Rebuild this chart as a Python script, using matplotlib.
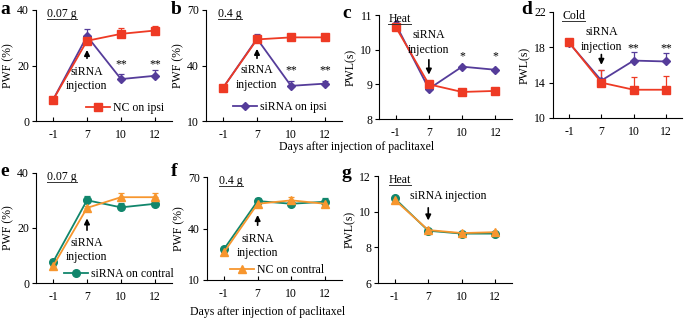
import matplotlib.pyplot as plt
from matplotlib.lines import Line2D

plt.rcParams['font.family'] = ['Liberation Serif', 'DejaVu Serif']
plt.rcParams['font.size'] = 8.5

days = ["-1", "7", "10", "12"]
xs = [0, 1, 2, 3]

PURPLE = "#553c9a"
RED = "#ee3a24"
GREEN = "#11866c"
ORANGE = "#f7962e"

# panel a: PWF 0.07 g (ipsi)
a_sirna = [7.6, 30.6, 15.1, 16.3]
a_sirna_err = [1.2, 2.4, 1.8, 1.9]
a_nc = [7.6, 28.9, 31.4, 32.6]
a_nc_err = [1.2, 1.5, 2.1, 1.6]

# panel b: PWF 0.4 g (ipsi)
b_sirna = [27.9, 54.5, 29.0, 30.2]
b_sirna_err = [0.5, 2.3, 2.7, 1.4]
b_nc = [27.9, 54.1, 55.2, 55.2]
b_nc_err = [0.5, 2.5, 0.8, 0.8]

# panel c: heat PWL (ipsi)
c_sirna = [10.74, 8.87, 9.51, 9.42]
c_nc = [10.66, 9.0, 8.78, 8.81]

# panel d: cold PWL (ipsi)
d_sirna = [18.5, 14.24, 16.5, 16.4]
d_sirna_err = [0.2, 1.2, 1.0, 1.0]
d_nc = [18.55, 14.0, 13.2, 13.2]
d_nc_err = [0.2, 1.4, 1.4, 1.5]

# panel e: PWF 0.07 g (contral)
e_sirna = [7.6, 30.1, 27.5, 28.8]
e_sirna_err = [1.2, 1.7, 1.6, 0.6]
e_nc = [6.1, 27.3, 31.2, 31.2]
e_nc_err = [0.6, 0.8, 1.5, 1.5]

# panel f: PWF 0.4 g (contral)
f_sirna = [27.9, 56.0, 54.4, 55.6]
f_sirna_err = [0.8, 1.5, 0.8, 2.1]
f_nc = [26.1, 54.4, 56.4, 54.4]
f_nc_err = [0.5, 1.5, 1.7, 0.8]

# panel g: heat PWL (contral)
g_sirna = [10.74, 8.93, 8.77, 8.77]
g_nc = [10.66, 8.97, 8.8, 8.85]

W, H = 685, 319
fig = plt.figure(figsize=(W / 100, H / 100), dpi=100)
underlined = []


def make_ax(left, right, top, bottom):
    return fig.add_axes([left / W, 1 - bottom / H, (right - left) / W, (bottom - top) / H])


def style(ax, ylim, yticks, ylabel, label, lx, ly):
    ax.set_xlim(-0.5, 3.5)
    ax.set_ylim(*ylim)
    ax.set_yticks(yticks)
    ax.set_xticks(xs)
    ax.set_xticklabels(days)
    ax.spines['top'].set_visible(False)
    ax.spines['right'].set_visible(False)
    ax.tick_params(axis='x', direction='in', length=3, pad=6)
    ax.tick_params(axis='y', direction='out', length=3, pad=2)
    ax.set_ylabel(ylabel, labelpad=2)
    fig.text(lx / W, 1 - ly / H, label, fontsize=14, fontweight='bold',
             ha='left', va='center')


def series(ax, y, err, color, marker, ms):
    ax.errorbar(xs, y, yerr=None if err is None else [[0] * 4, err], color=color,
                marker=marker, ms=ms, lw=1.3, capsize=2.5, elinewidth=0.9,
                capthick=0.9)


def title(ax, s, x=0.08):
    t = ax.text(x, 0.96, s, transform=ax.transAxes, ha='left', va='center')
    underlined.append((ax, t))


def arrow(ax, y0, y1):
    ax.annotate("", xy=(1, y1), xytext=(1, y0),
                arrowprops=dict(arrowstyle='-|>', lw=1.2, color='black', mutation_scale=8))


def legend(ax, color, marker, ms, text, x, y):
    h = Line2D([], [], color=color, marker=marker, ms=ms, lw=1.3)
    ax.legend([h], [text], loc='center left', frameon=False,
              handlelength=2.0, handletextpad=0.25, borderpad=0, borderaxespad=0,
              bbox_to_anchor=(x / W, 1 - y / H), bbox_transform=fig.transFigure)


ax = make_ax(36, 172, 10, 121)
series(ax, a_sirna, a_sirna_err, PURPLE, 'D', 4.5)
series(ax, a_nc, a_nc_err, RED, 's', 5.5)
style(ax, (0, 40), [0, 20, 40], "PWF (%)", "a", 0, 10)
title(ax, "0.07 g")
arrow(ax, 21.6, 26.6)
ax.text(1, 15.1, "siRNA\ninjection", ha='center', va='center', linespacing=1.3)
for x in (2, 3):
    ax.text(x, 20.5, "**", ha='center', va='center')
legend(ax, RED, 's', 5.5, "NC on ipsi", 86, 108)

ax = make_ax(206, 342, 10, 121)
series(ax, b_sirna, b_sirna_err, PURPLE, 'D', 4.5)
series(ax, b_nc, b_nc_err, RED, 's', 5.5)
style(ax, (10, 70), [10, 40, 70], "PWF (%)", "b", 171, 10)
title(ax, "0.4 g", 0.09)
arrow(ax, 42.4, 50.5)
ax.text(1, 33.5, "siRNA\ninjection", ha='center', va='center', linespacing=1.3)
for x in (2, 3):
    ax.text(x, 37.5, "**", ha='center', va='center')
legend(ax, PURPLE, 'D', 4.5, "siRNA on ipsi", 233, 107)

ax = make_ax(379, 512, 15, 119)
series(ax, c_sirna, None, PURPLE, 'D', 4.5)
series(ax, c_nc, None, RED, 's', 5.5)
style(ax, (8, 11), [8, 9, 10, 11], "PWL(s)", "c", 342, 13)
title(ax, "Heat", 0.07)
arrow(ax, 9.79, 9.2)
ax.text(1, 10.2, "siRNA\ninjection", ha='center', va='center', linespacing=1.3)
for x in (2, 3):
    ax.text(x, 9.82, "*", ha='center', va='center')

ax = make_ax(553, 682, 12, 118)
series(ax, d_sirna, d_sirna_err, PURPLE, 'D', 4.5)
series(ax, d_nc, d_nc_err, RED, 's', 5.5)
style(ax, (10, 22), [10, 14, 18, 22], "PWL(s)", "d", 521, 10)
title(ax, "Cold", 0.07)
arrow(ax, 17.5, 15.7)
ax.text(1, 18.9, "siRNA\ninjection", ha='center', va='center', linespacing=1.3)
for x in (2, 3):
    ax.text(x, 17.9, "**", ha='center', va='center')

ax = make_ax(36, 172, 173, 283)
series(ax, e_sirna, e_sirna_err, GREEN, 'o', 5.5)
series(ax, e_nc, e_nc_err, ORANGE, '^', 5.5)
style(ax, (0, 40), [0, 20, 40], "PWF (%)", "e", 0, 172)
title(ax, "0.07 g")
arrow(ax, 18.2, 24.5)
ax.text(1, 12, "siRNA\ninjection", ha='center', va='center', linespacing=1.3)
legend(ax, GREEN, 'o', 5.5, "siRNA on contral", 64, 274)

ax = make_ax(207, 342, 177, 280)
series(ax, f_sirna, f_sirna_err, GREEN, 'o', 5.5)
series(ax, f_nc, f_nc_err, ORANGE, '^', 5.5)
style(ax, (10, 70), [10, 40, 70], "PWF (%)", "f", 171, 172)
title(ax, "0.4 g", 0.09)
arrow(ax, 40.3, 49.5)
ax.text(1, 29.8, "siRNA\ninjection", ha='center', va='center', linespacing=1.3)
legend(ax, ORANGE, '^', 5.5, "NC on contral", 230, 270)

ax = make_ax(378, 512, 176, 283)
series(ax, g_sirna, None, GREEN, 'o', 5.5)
series(ax, g_nc, None, ORANGE, '^', 5.5)
style(ax, (6, 12), [6, 8, 10, 12], "PWL(s)", "g", 342, 174)
title(ax, "Heat")
arrow(ax, 10.37, 9.35)
ax.text(1.59, 10.88, "siRNA injection", ha='center', va='center')

fig.text(357 / W, 1 - 147 / H, "Days after injection of paclitaxel", ha='center',
         va='center')
fig.text(268 / W, 1 - 312 / H, "Days after injection of paclitaxel", ha='center',
         va='center')

# underline the panel titles
fig.canvas.draw()
r = fig.canvas.get_renderer()
for ax, t in underlined:
    bb = t.get_window_extent(r)
    fig.add_artist(Line2D([bb.x0 / fig.bbox.width, bb.x1 / fig.bbox.width],
                          [(bb.y0 + 1) / fig.bbox.height] * 2,
                          color='#333333', lw=0.7))

fig.savefig("out.png", dpi=100)
